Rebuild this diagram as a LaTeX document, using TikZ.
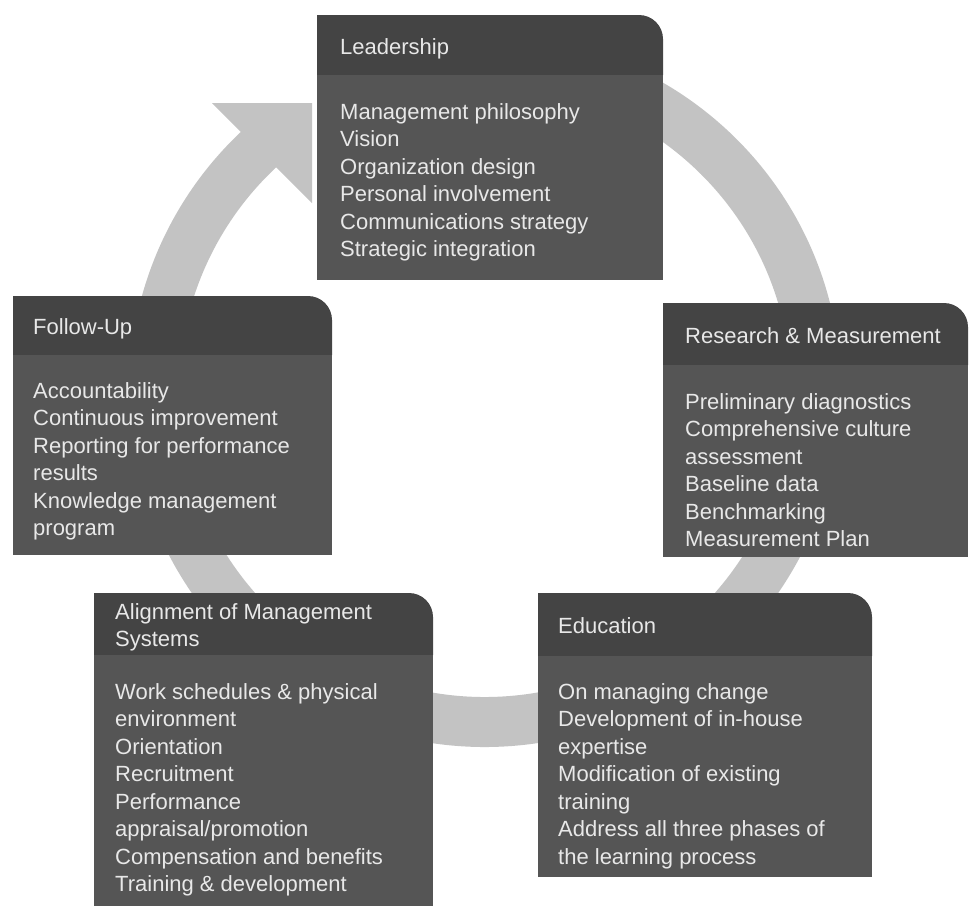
\documentclass[tikz,border=0pt]{standalone}
\usepackage{fontspec}
\setmainfont{Liberation Sans}
\usepackage{xcolor}
\usepackage{tikz}
\definecolor{ringgray}{HTML}{C3C3C3}
\definecolor{headgray}{HTML}{444444}
\definecolor{bodygray}{HTML}{555555}
\definecolor{textgray}{HTML}{E8E8E8}
\tikzset{ % global config
    ring/.style={line width=50pt, draw=ringgray}, % the cycle behind the boxes
    headbg/.style={fill=headgray}, % dark title strip of a box
    bodybg/.style={fill=bodygray}, % lighter body of a box
    boxtext/.style={anchor=north west, inner sep=0pt, align=left, text=textgray,
        font=\fontsize{22}{27.5}\selectfont}, % every text, placed by its top left corner
}

\begin{document}
\begin{tikzpicture}[x=1pt, y=-1pt]

		\useasboundingbox (0,0) rectangle (972,906);

		\draw[ring] (485,391) ++(265:331) arc[start angle=265, end angle=589, radius=331];
		\fill[ringgray] (212,103) -- (312,103) -- (312,203) -- cycle;

		\fill[headbg] (317,75) |- (639,15) arc[start angle=270, end angle=360, radius=24] |- (317,75) -- cycle;
		\fill[bodybg] (317,75) rectangle (663,280);
		\node[boxtext] (lead-h) at (340,38) {Leadership};
		\node[boxtext] (lead-b) at (340,103) {Management philosophy\\Vision\\Organization design\\Personal involvement\\Communications strategy\\Strategic integration};

		\fill[headbg] (663,365) |- (944,303) arc[start angle=270, end angle=360, radius=24] |- (663,365) -- cycle;
		\fill[bodybg] (663,365) rectangle (968,557);
		\node[boxtext] (meas-h) at (685,327) {Research \& Measurement};
		\node[boxtext] (meas-b) at (685,393) {Preliminary diagnostics\\Comprehensive culture\\assessment\\Baseline data\\Benchmarking\\Measurement Plan};

		\fill[headbg] (538,656) |- (848,593) arc[start angle=270, end angle=360, radius=24] |- (538,656) -- cycle;
		\fill[bodybg] (538,656) rectangle (872,877);
		\node[boxtext] (edu-h) at (558,617) {Education};
		\node[boxtext] (edu-b) at (558,683) {On managing change\\Development of in-house\\expertise\\Modification of existing\\training\\Address all three phases of\\the learning process};

		\fill[headbg] (94,655) |- (409,593) arc[start angle=270, end angle=360, radius=24] |- (94,655) -- cycle;
		\fill[bodybg] (94,655) rectangle (433,906);
		\node[boxtext] (align-h) at (115,603) {Alignment of Management\\Systems};
		\node[boxtext] (align-b) at (115,683) {Work schedules \& physical\\environment\\Orientation\\Recruitment\\Performance\\appraisal/promotion\\Compensation and benefits\\Training \& development};

		\fill[headbg] (13,355) |- (308,296) arc[start angle=270, end angle=360, radius=24] |- (13,355) -- cycle;
		\fill[bodybg] (13,355) rectangle (332,555);
		\node[boxtext] (follow-h) at (33,318) {Follow-Up};
		\node[boxtext] (follow-b) at (33,382) {Accountability\\Continuous improvement\\Reporting for performance\\results\\Knowledge management\\program};

	\end{tikzpicture}
\end{document}
